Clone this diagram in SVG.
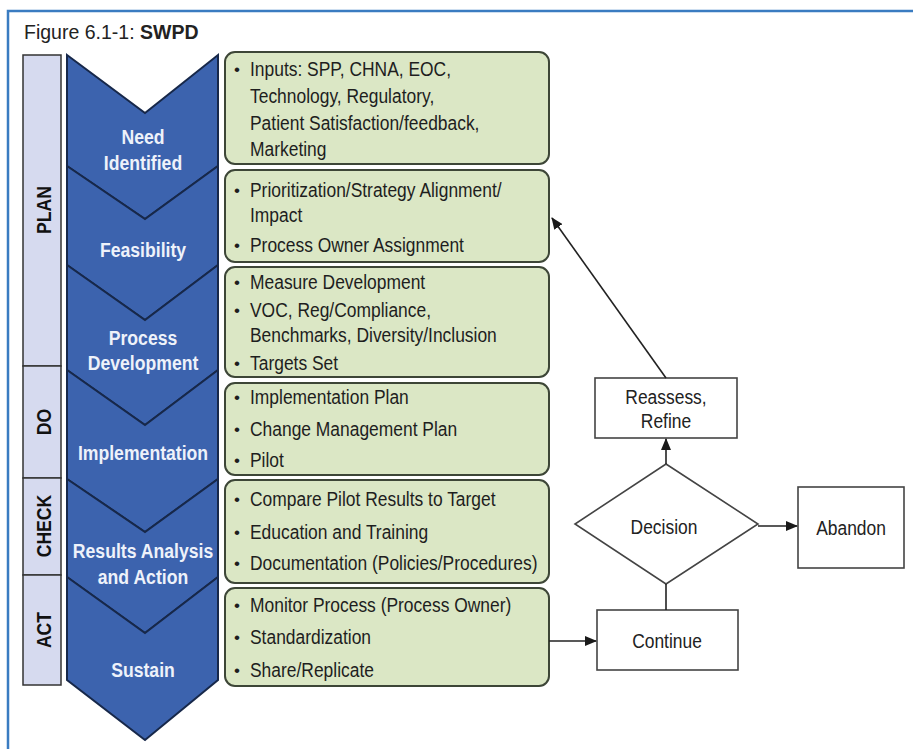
<svg xmlns="http://www.w3.org/2000/svg" width="913" height="749" viewBox="0 0 913 749">
<defs>
<marker id="ah" markerWidth="12" markerHeight="10" refX="11" refY="5" orient="auto" markerUnits="userSpaceOnUse">
<path d="M0,0 L12,5 L0,10 Z" fill="#1a1a1a"/>
</marker>
<style>
text{font-family:"Liberation Sans",Arial,sans-serif;}
.phase rect{fill:#d6daef;stroke:#333;stroke-width:1.5;}
.phase text{font-size:21px;font-weight:bold;fill:#111;text-anchor:middle;}
.step polygon{fill:#3c63ae;stroke:#17284a;stroke-width:2;stroke-linejoin:miter;}
.step text{font-size:21px;font-weight:bold;fill:#eef2fa;text-anchor:middle;}
.box rect{fill:#dbe7c5;stroke:#3d4637;stroke-width:2;}
.box text{font-size:21px;fill:#1e1e1e;}
.box text.b{font-size:17px;}
.flow rect,.flow polygon{fill:#fff;stroke:#444;stroke-width:1.6;}
.flow text{font-size:21px;fill:#222;text-anchor:middle;}
.conn line{stroke:#222;stroke-width:1.6;fill:none;}
</style>
</defs>
<rect x="0" y="0" width="913" height="749" fill="#fff"/>
<path d="M8,760 L8,11 L920,11" fill="none" stroke="#3a7cc1" stroke-width="2.5"/>
<text x="24" y="39" font-size="19.5" fill="#222">Figure 6.1-1: <tspan font-weight="bold">SWPD</tspan></text>

<g id="phase-plan" class="phase"><rect x="23" y="55" width="38" height="311"/><text transform="translate(51,210) rotate(-90) scale(0.84,1)">PLAN</text></g>
<g id="phase-do" class="phase"><rect x="23" y="366" width="38" height="112"/><text transform="translate(51,422) rotate(-90) scale(0.84,1)">DO</text></g>
<g id="phase-check" class="phase"><rect x="23" y="478" width="38" height="97"/><text transform="translate(51,526) rotate(-90) scale(0.84,1)">CHECK</text></g>
<g id="phase-act" class="phase"><rect x="23" y="575" width="38" height="110"/><text transform="translate(51,630) rotate(-90) scale(0.84,1)">ACT</text></g>

<g id="step-need" class="step"><polygon points="67,55 145,113 218,55 218,166 145,219 67,166"/><text transform="translate(143,144) scale(0.84,1)">Need</text><text transform="translate(143,170) scale(0.84,1)">Identified</text></g>
<g id="step-feasibility" class="step"><polygon points="67,166 145,219 218,166 218,265 145,320 67,265"/><text transform="translate(143,257) scale(0.84,1)">Feasibility</text></g>
<g id="step-process" class="step"><polygon points="67,265 145,320 218,265 218,370 145,425 67,370"/><text transform="translate(143,345) scale(0.84,1)">Process</text><text transform="translate(143,370) scale(0.84,1)">Development</text></g>
<g id="step-implementation" class="step"><polygon points="67,370 145,425 218,370 218,479 145,532 67,479"/><text transform="translate(143,460) scale(0.84,1)">Implementation</text></g>
<g id="step-results" class="step"><polygon points="67,479 145,532 218,479 218,577 145,633 67,577"/><text transform="translate(143,558) scale(0.84,1)">Results Analysis</text><text transform="translate(143,584) scale(0.84,1)">and Action</text></g>
<g id="step-sustain" class="step"><polygon points="67,577 145,633 218,577 218,680 145,740 67,680"/><text transform="translate(143,677) scale(0.84,1)">Sustain</text></g>

<g id="box-inputs" class="box"><rect x="225" y="52" width="324" height="112" rx="10"/>
<text class="b" x="234" y="75">•</text><text transform="translate(250,76) scale(0.83,1)">Inputs: SPP, CHNA, EOC,</text>
<text transform="translate(250,103) scale(0.83,1)">Technology, Regulatory,</text>
<text transform="translate(250,130) scale(0.83,1)">Patient Satisfaction/feedback,</text>
<text transform="translate(250,156) scale(0.83,1)">Marketing</text></g>
<g id="box-feasibility" class="box"><rect x="225" y="170" width="324" height="92" rx="10"/>
<text class="b" x="234" y="196">•</text><text transform="translate(250,197) scale(0.83,1)">Prioritization/Strategy Alignment/</text>
<text transform="translate(250,222) scale(0.83,1)">Impact</text>
<text class="b" x="234" y="251">•</text><text transform="translate(250,252) scale(0.83,1)">Process Owner Assignment</text></g>
<g id="box-process" class="box"><rect x="225" y="267" width="324" height="110" rx="10"/>
<text class="b" x="234" y="288">•</text><text transform="translate(250,289) scale(0.83,1)">Measure Development</text>
<text class="b" x="234" y="316">•</text><text transform="translate(250,317) scale(0.83,1)">VOC, Reg/Compliance,</text>
<text transform="translate(250,342) scale(0.83,1)">Benchmarks, Diversity/Inclusion</text>
<text class="b" x="234" y="369">•</text><text transform="translate(250,370) scale(0.83,1)">Targets Set</text></g>
<g id="box-implementation" class="box"><rect x="225" y="383" width="324" height="92" rx="10"/>
<text class="b" x="234" y="403">•</text><text transform="translate(250,404) scale(0.83,1)">Implementation Plan</text>
<text class="b" x="234" y="435">•</text><text transform="translate(250,436) scale(0.83,1)">Change Management Plan</text>
<text class="b" x="234" y="466">•</text><text transform="translate(250,467) scale(0.83,1)">Pilot</text></g>
<g id="box-results" class="box"><rect x="225" y="480" width="324" height="103" rx="10"/>
<text class="b" x="234" y="505">•</text><text transform="translate(250,506) scale(0.83,1)">Compare Pilot Results to Target</text>
<text class="b" x="234" y="538">•</text><text transform="translate(250,539) scale(0.83,1)">Education and Training</text>
<text class="b" x="234" y="569">•</text><text transform="translate(250,570) scale(0.83,1)">Documentation (Policies/Procedures)</text></g>
<g id="box-sustain" class="box"><rect x="225" y="588" width="324" height="98" rx="10"/>
<text class="b" x="234" y="611">•</text><text transform="translate(250,612) scale(0.83,1)">Monitor Process (Process Owner)</text>
<text class="b" x="234" y="643">•</text><text transform="translate(250,644) scale(0.83,1)">Standardization</text>
<text class="b" x="234" y="676">•</text><text transform="translate(250,677) scale(0.83,1)">Share/Replicate</text></g>

<g id="node-reassess" class="flow"><rect x="595" y="378" width="142" height="60"/><text transform="translate(666,404) scale(0.83,1)">Reassess,</text><text transform="translate(666,428) scale(0.83,1)">Refine</text></g>
<g id="node-decision" class="flow"><polygon points="666,464 758,524 666,584 575,524"/><text transform="translate(664,534) scale(0.83,1)">Decision</text></g>
<g id="node-abandon" class="flow"><rect x="798" y="487" width="106" height="81"/><text transform="translate(851,535) scale(0.83,1)">Abandon</text></g>
<g id="node-continue" class="flow"><rect x="597" y="610" width="141" height="60"/><text transform="translate(667,648) scale(0.83,1)">Continue</text></g>

<g id="connectors" class="conn">
<line x1="666" y1="378" x2="552" y2="218" marker-end="url(#ah)"/>
<line x1="666" y1="464" x2="666" y2="439" marker-end="url(#ah)"/>
<line x1="758" y1="526" x2="797" y2="526" marker-end="url(#ah)"/>
<line x1="666" y1="584" x2="666" y2="610"/>
<line x1="549" y1="641" x2="596" y2="641" marker-end="url(#ah)"/>
</g>
</svg>
